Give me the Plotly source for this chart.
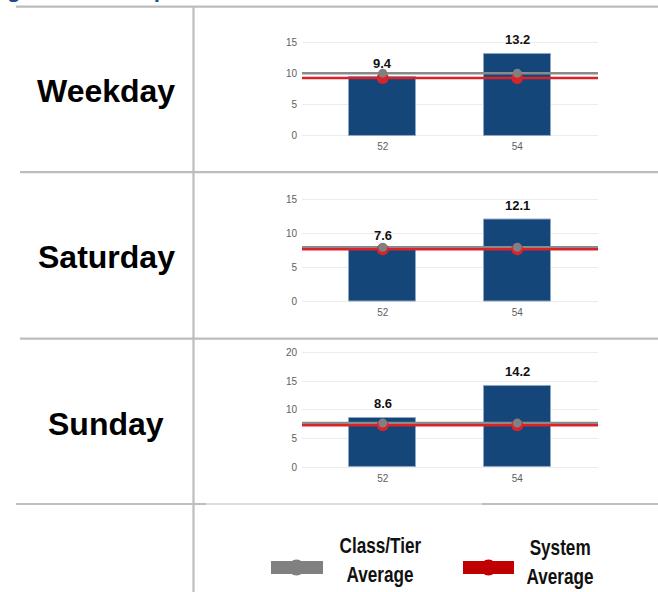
import json
import plotly.graph_objects as go

# ---- data -------------------------------------------------------------
categories = ["52", "54"]
day_types = ["Weekday", "Saturday", "Sunday"]
weekday_values = [9.4, 13.2]
saturday_values = [7.6, 12.1]
sunday_values = [8.6, 14.2]
class_tier_avg = [10.1, 8.0, 7.7]
system_avg = [9.3, 7.7, 7.3]
y_ticks = [[0, 5, 10, 15], [0, 5, 10, 15], [0, 5, 10, 15, 20]]
title_text = "Average Passenger Activities per Revenue Hour"
legend_labels = [["Class/Tier", "Average"], ["System", "Average"]]

series = [weekday_values, saturday_values, sunday_values]

# ---- page geometry (pixels) ------------------------------------------
W, H = 658, 592
BAR_BLUE = "#15467A"
GREY = "#8a8a8a"
RED = "#dd2129"
RULE = "#bdbdbd"
FONT = "Liberation Sans, Arial, sans-serif"

X_RANGE = [-0.6, 1.6]
PLOT_LEFT, PLOT_RIGHT = 302, 598
# zero-line pixel, pixels per unit, value range for each panel
panels = [
    (136.0, 6.2, [-0.6, 16.6]),
    (302.3, 6.78, [-0.6, 15.8]),
    (468.7, 5.74, [-0.7, 21.0]),
]
row_centers = [91, 258, 425]


def px(x):
    return x / W


def py(y):
    return 1 - y / H


fig = go.Figure()
layout = {}
annotations = []
shapes = []

for i, (vals, (zero_px, scale, yr)) in enumerate(zip(series, panels)):
    n = "" if i == 0 else str(i + 1)
    xa, ya = "x" + n, "y" + n
    bottom_px = zero_px - yr[0] * scale
    top_px = zero_px - yr[1] * scale
    pos = list(range(len(categories)))

    fig.add_trace(go.Bar(
        x=pos, y=vals, width=0.5, xaxis=xa, yaxis=ya,
        marker=dict(color=BAR_BLUE, line=dict(color="#8fa8c6", width=1)),
        showlegend=False, hoverinfo="skip",
    ))
    # class/tier average line, then system average line
    fig.add_trace(go.Scatter(
        x=X_RANGE, y=[class_tier_avg[i]] * 2, mode="lines", xaxis=xa, yaxis=ya,
        line=dict(color=GREY, width=2.5), showlegend=False, hoverinfo="skip",
    ))
    fig.add_trace(go.Scatter(
        x=X_RANGE, y=[system_avg[i]] * 2, mode="lines", xaxis=xa, yaxis=ya,
        line=dict(color=RED, width=2.5), showlegend=False, hoverinfo="skip",
    ))
    fig.add_trace(go.Scatter(
        x=pos, y=[system_avg[i]] * len(pos), mode="markers", xaxis=xa, yaxis=ya,
        marker=dict(color="#d8232a", size=12), showlegend=False, hoverinfo="skip",
    ))
    fig.add_trace(go.Scatter(
        x=pos, y=[class_tier_avg[i]] * len(pos), mode="markers", xaxis=xa, yaxis=ya,
        marker=dict(color="#808080", size=9), showlegend=False, hoverinfo="skip",
    ))

    for p, v in zip(pos, vals):
        annotations.append(dict(
            x=p, y=v, xref=xa, yref=ya, text=f"{v:.1f}", showarrow=False,
            yanchor="middle", yshift=14,
            font=dict(family=FONT, size=13, color="#111111", weight="bold"),
        ))

    layout["xaxis" + n] = dict(
        domain=[px(PLOT_LEFT), px(PLOT_RIGHT)], range=X_RANGE, anchor=ya,
        tickvals=pos, ticktext=categories, showgrid=False, zeroline=False,
        showline=False, ticks="", fixedrange=True,
        tickfont=dict(family=FONT, size=10, color="#5e5e5e"),
    )
    layout["yaxis" + n] = dict(
        domain=[py(bottom_px), py(top_px)], range=yr, anchor=xa,
        tickvals=y_ticks[i], showgrid=True, gridcolor="#ececec", gridwidth=1,
        zeroline=False, showline=False, ticks="", fixedrange=True,
        ticklabelstandoff=4,
        tickfont=dict(family=FONT, size=10, color="#5e5e5e"),
    )

    # row label
    annotations.append(dict(
        x=px(106), y=py(row_centers[i]), xref="paper", yref="paper",
        text=day_types[i], showarrow=False, xanchor="center", yanchor="middle",
        font=dict(family=FONT, size=32, color="#000000", weight="bold"),
    ))

# title strip at the very top (runs off the page)
annotations.append(dict(
    x=px(-168), y=py(4.5), xref="paper", yref="paper", text=title_text,
    showarrow=False, xanchor="left", yanchor="bottom",
    font=dict(family=FONT, size=22.5, color="#1f4e8c", weight="bold"),
))


# table rules
def hline(y, x0, x1, w=2.2):
    shapes.append(dict(type="line", xref="paper", yref="paper",
                       x0=px(x0), x1=px(x1), y0=py(y), y1=py(y),
                       line=dict(color=RULE, width=w)))


hline(6.7, 16, 658)
hline(172.7, 20, 658)
hline(339.8, 20, 658)
hline(505.7, 16, 206)
hline(505.7, 206, 482, 1.2)
hline(505.7, 482, 658)
shapes.append(dict(type="line", xref="paper", yref="paper",
                   x0=px(193.5), x1=px(193.5), y0=py(7), y1=py(H + 2),
                   line=dict(color=RULE, width=2.2)))

# legend keys
for (x0, x1, cx), col, (l1, l2), tx, ty in [
    ((271, 323, 296.5), "#808080", legend_labels[0], 380, 547),
    ((463, 514, 488.5), "#c00000", legend_labels[1], 560, 549),
]:
    shapes.append(dict(type="rect", xref="paper", yref="paper",
                       x0=px(x0), x1=px(x1), y0=py(576), y1=py(563),
                       fillcolor=col, line=dict(width=0)))
    shapes.append(dict(type="circle", xref="paper", yref="paper",
                       x0=px(cx - 8), x1=px(cx + 8), y0=py(577.5), y1=py(561.5),
                       fillcolor=col, line=dict(width=0)))
    for txt, yy in [(l1, ty), (l2, ty + 29)]:
        annotations.append(dict(
            x=px(tx), y=py(yy), xref="paper", yref="paper", text=txt,
            showarrow=False, xanchor="center", yanchor="middle",
            font=dict(family=FONT, size=22, color="#111111", weight="bold"),
        ))

fig.update_layout(
    width=W, height=H, margin=dict(l=0, r=0, t=0, b=0),
    paper_bgcolor="white", plot_bgcolor="white",
    annotations=annotations, shapes=shapes, bargap=0,
    **layout,
)

# legend captions are set in a narrow (condensed) style
narrow = sorted({t for pair in legend_labels for t in pair})
post_script = """
var gd = document.getElementById('{plot_id}');
var narrow = %s;
gd.querySelectorAll('text.annotation-text').forEach(function (t) {
  if (narrow.indexOf(t.textContent) >= 0) {
    t.style.transformBox = 'fill-box';
    t.style.transformOrigin = 'center';
    t.style.transform = 'scaleX(0.78)';
  }
});
""" % json.dumps(narrow)

fig.write_html("out.html", config={"displayModeBar": False}, post_script=post_script)
